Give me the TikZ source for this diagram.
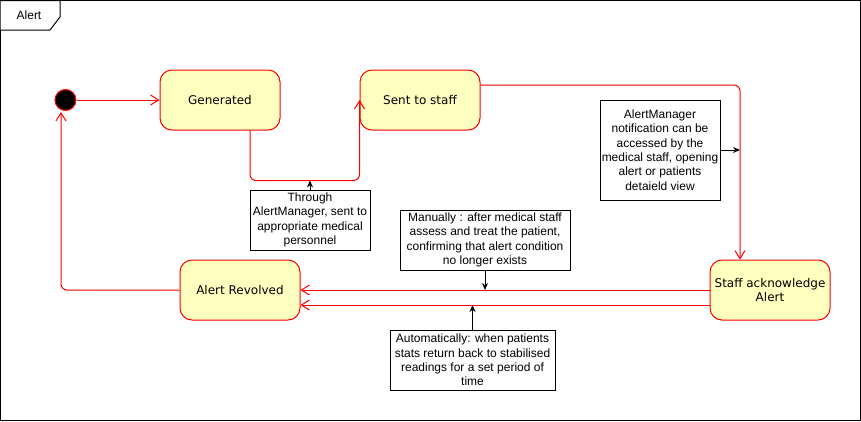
\documentclass[tikz,border=0pt]{standalone}
\usepackage{fontspec}
\setmainfont{Liberation Sans}
\newfontfamily\statefont{DejaVu Sans}
\usetikzlibrary{arrows.meta,calc}
\definecolor{statefill}{HTML}{FFFFC0}
\definecolor{statered}{HTML}{FF0000}
\begin{document}
\begin{tikzpicture}[x=1pt,y=-1pt,line width=1pt,
  statebox/.style={draw=statered,fill=statefill,rounded corners=12pt,minimum width=120pt,minimum height=60pt,inner sep=0pt,align=center,font=\statefont\fontsize{12}{14.4}\selectfont},
  notebox/.style={draw=black,fill=white,inner sep=0pt,align=center,font=\fontsize{12}{14.4}\selectfont},
  flow/.style={draw=statered,rounded corners=6pt,-{Straight Barb[length=8pt,width=10pt,line width=1pt]}},
  notearrow/.style={draw=black,-{Stealth[length=7pt,width=6pt]}}]
\useasboundingbox (0,0) rectangle (861,421);
% frame
\draw[black] (0.5,0.5) rectangle (860,420);
\draw[black,fill=white] (0.5,0.5) -- (60,0.5) -- (60,17) -- (50,30) -- (0.5,30);
\node[font=\fontsize{12}{14.4}\selectfont] (tab) at (29,15) {Alert};
% states
\node[circle,fill=black,draw=statered,minimum size=21pt,inner sep=0pt] (init) at (65.5,100) {};
\node[statebox] (gen) at (220,100) {Generated};
\node[statebox] (sent) at (420,100) {Sent to staff};
\node[statebox] (staff) at (770,290) {Staff acknowledge\\Alert};
\node[statebox] (rev) at (240,290) {Alert Revolved};
% connectors
\draw[flow] (init) -- (gen.west);
\draw[flow] ([xshift=30pt]gen.south) -- ++(0,50) coordinate (c1) -| (sent.west);
\coordinate (c2) at ([xshift=-30pt]staff.north);
\draw[flow] ([yshift=15pt]sent.east) -| (c2);
\draw[flow] (staff.west) -- (rev.east);
\coordinate (c3) at ([yshift=-15pt]staff.west);
\draw[flow] (c3) -- ([yshift=-15pt]rev.east);
\coordinate (c4) at ([xshift=-4.5pt,yshift=-1pt]init.south);
\draw[flow] (rev.west) -| (c4);
% notes
\node[notebox,minimum width=120pt,minimum height=60pt] (n1) at (310,220) {Through\\AlertManager, sent to\\appropriate medical\\personnel};
\node[notebox,minimum width=120pt,minimum height=100pt] (n2) at (660,150) {AlertManager\\notification can be\\accessed by the\\medical staff, opening\\alert or patients\\detaield view};
\node[notebox,minimum width=170pt,minimum height=60pt] (n3) at (485,240) {Manually : after medical staff\\assess and treat the patient,\\confirming that alert condition\\no longer exists};
\node[notebox,minimum width=165pt,minimum height=60pt] (n4) at (472.5,360) {Automatically: when patients\\stats return back to stabilised\\readings for a set period of\\time};
\draw[notearrow] (n1.north) -- (n1.north |- c1);
\draw[notearrow] (n2.east) -- (n2.east -| c2);
\draw[notearrow] (n3.south) -- (n3.south |- staff.west);
\draw[notearrow] (n4.north) -- (n4.north |- c3);
\end{tikzpicture}
\end{document}
